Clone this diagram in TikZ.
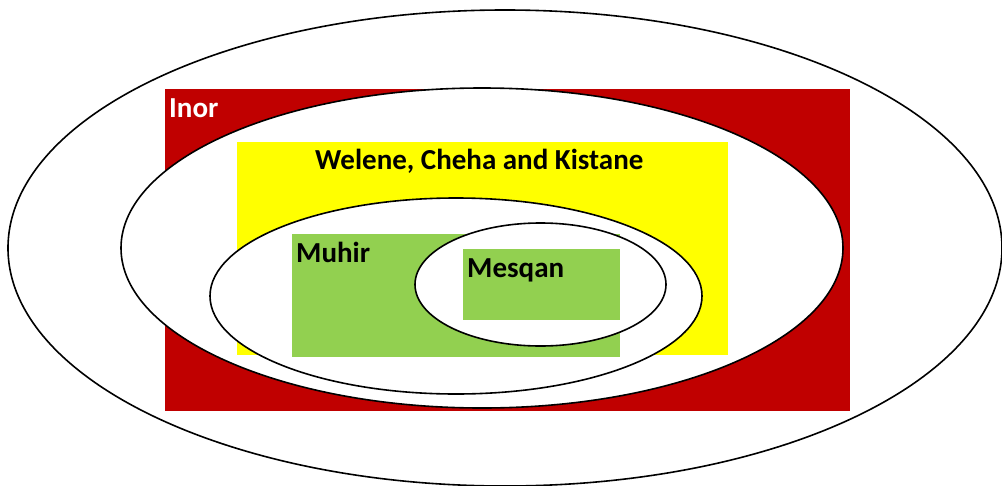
\documentclass[tikz,border=0pt]{standalone}
\usepackage{fontspec}
\setmainfont{Carlito}
\definecolor{inorred}{HTML}{C00000}
\definecolor{wcyellow}{HTML}{FFFF00}
\definecolor{muhirgreen}{HTML}{92D050}
\begin{document}
\begin{tikzpicture}[x=1pt,y=-1pt,
  ring/.style={draw=black,line width=1.6pt,fill=white},
  label/.style={anchor=base west,inner sep=0pt,font=\fontsize{29}{35}\selectfont\bfseries}]
\useasboundingbox (0,0) rectangle (1002,485);
\clip (0,0) rectangle (1002,485);
% outermost ring
\draw[ring] (505,248) ellipse [x radius=497pt, y radius=238pt];
% Inor
\fill[inorred] (165,89) rectangle (850,411);
\draw[ring] (482,248) ellipse [x radius=361pt, y radius=160pt];
% Welene, Cheha and Kistane
\fill[wcyellow] (237,142) rectangle (728,355);
\draw[ring] (456,296) ellipse [x radius=246pt, y radius=98pt];
% Muhir
\fill[muhirgreen] (292,234) rectangle (620,357);
\draw[ring] (540.5,284.5) ellipse [x radius=125.5pt, y radius=61.5pt];
% Mesqan
\fill[muhirgreen] (463,249) rectangle (620,320);
% labels
\node[label,text=white] (inor) at (169,117) {Inor};
\node[label] (welene) at (315,169) {Welene, Cheha and Kistane};
\node[label] (muhir) at (296,262) {Muhir};
\node[label] (mesqan) at (467,277) {Mesqan};
\end{tikzpicture}
\end{document}
